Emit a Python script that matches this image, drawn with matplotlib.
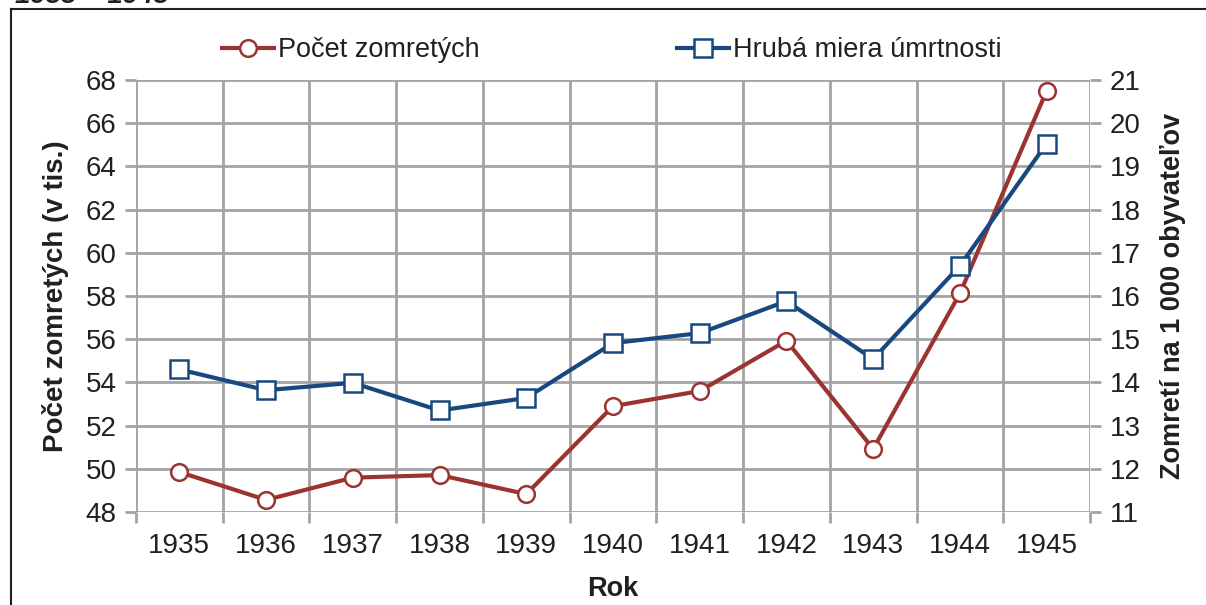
import numpy as np
import matplotlib.pyplot as plt
from matplotlib.lines import Line2D

plt.rcParams['font.family'] = ['Liberation Sans', 'DejaVu Sans']

# data
roky = ['1935', '1936', '1937', '1938', '1939', '1940', '1941', '1942', '1943', '1944', '1945']
zomreti = [49.85, 48.56, 49.59, 49.71, 48.83, 52.9, 53.6, 55.93, 50.92, 58.12, 67.5]
miera = [14.30, 13.82, 13.99, 13.35, 13.64, 14.91, 15.14, 15.88, 14.54, 16.70, 19.53]
lavy_ticky = np.arange(48, 69, 2)
pravy_ticky = np.arange(11, 22, 1)

RED = '#9b3431'
BLUE = '#17497f'
GRID = '#a3a3a6'
TXT = '#231f20'

W, H = 1206, 605
fig = plt.figure(figsize=(W / 100, H / 100), dpi=100)

# plot area in pixels
L, R, T, B = 136, 1090, 80, 512
ax = fig.add_axes([L / W, 1 - B / H, (R - L) / W, (B - T) / H])
ax2 = ax.twinx()

x = np.arange(len(roky))
ax.set_xlim(-0.5, len(roky) - 0.5)
ax.set_ylim(48, 68)
ax2.set_ylim(11, 21)

ax.set_yticks(lavy_ticky)
ax2.set_yticks(pravy_ticky)
ax.set_xticks(x)
ax.set_xticklabels(roky)
ax.set_xticks(np.arange(-0.5, len(roky)), minor=True)

ax.grid(True, axis='y', which='major', color=GRID, lw=2)
ax.grid(True, axis='x', which='minor', color=GRID, lw=2)
ax.set_axisbelow(True)

for a in (ax, ax2):
    for s in a.spines.values():
        s.set_visible(False)

ax.tick_params(axis='x', which='major', length=0, pad=15, labelsize=20, labelcolor=TXT)
ax.tick_params(axis='x', which='minor', length=8, width=2, color=GRID)
ax.tick_params(axis='y', length=8, width=2, color=GRID, labelsize=20, labelcolor=TXT, pad=6)
ax2.tick_params(axis='y', length=8, width=2, color=GRID, labelsize=20, labelcolor=TXT, pad=6)

ax.plot(x, zomreti, color=RED, lw=3, marker='o', ms=12, mfc='white', mec=RED, mew=1.8,
        zorder=3, clip_on=False)
ax2.plot(x, miera, color=BLUE, lw=3, marker='s', ms=13, mfc='white', mec=BLUE, mew=1.8,
         zorder=3, clip_on=False)

ax.set_xlabel('Rok', fontsize=19.5, fontweight='bold', color=TXT, labelpad=12)
ax.set_ylabel('Počet zomretých (v tis.)', fontsize=20, fontweight='bold', color=TXT, labelpad=12)
ax2.set_ylabel('Zomretí na 1 000 obyvateľov', fontsize=19.5, fontweight='bold', color=TXT,
               labelpad=14)

h1 = Line2D([], [], color=RED, lw=3, marker='o', ms=12, mfc='white', mec=RED, mew=1.8)
h2 = Line2D([], [], color=BLUE, lw=3, marker='s', ms=13, mfc='white', mec=BLUE, mew=1.8)
fig.legend([h1, h2], ['Počet zomretých', 'Hrubá miera úmrtnosti'], ncol=2, frameon=False,
           loc='center', bbox_to_anchor=(612 / W, 1 - 50 / H), fontsize=19.5,
           handlelength=1.9, handletextpad=0.15, columnspacing=7.3, labelcolor=TXT)

# frame and cut-off title
fig.add_artist(Line2D([11 / W, 11 / W], [0, 1 - 9 / H], color='#231f20', lw=1.5))
fig.add_artist(Line2D([11 / W, 1], [1 - 9 / H, 1 - 9 / H], color='#231f20', lw=1.5))
fig.text(15 / W, 1 - 3 / H, '1935 – 1945', fontsize=20, fontweight='bold', fontstyle='italic',
         color=TXT, va='baseline')

fig.savefig('out.png', dpi=100)
